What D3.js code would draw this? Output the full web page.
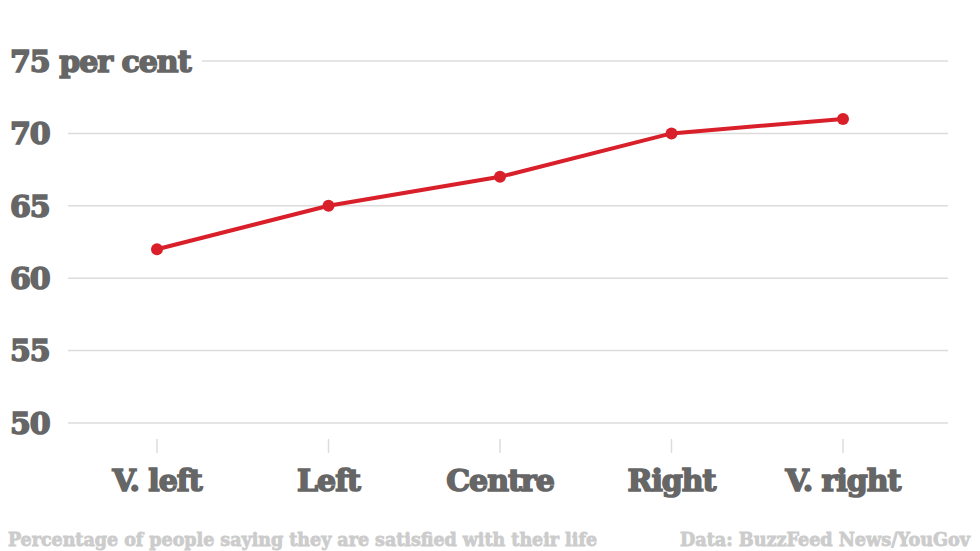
<!DOCTYPE html>
<html><head><meta charset="utf-8">
<script src="https://cdn.jsdelivr.net/npm/d3@7"></script>
<style>
body{margin:0;background:#fff;}
svg text{font-family:"DejaVu Serif","Liberation Serif",serif;font-weight:bold;}
</style></head>
<body><svg id="c" width="980" height="551"></svg>
<script>
const categories = ["V. left","Left","Centre","Right","V. right"];
const values = [62,65,67,70,71];
const yTicks = [50,55,60,65,70,75];
const yTickLabels = ["50","55","60","65","70","75 per cent"];
const footLeft = "Percentage of people saying they are satisfied with their life";
const footRight = "Data: BuzzFeed News/YouGov";

const svg = d3.select("#c");
const x = d3.scalePoint().domain(categories).range([71.25,928.75]).padding(0.5);
const y = d3.scaleLinear().domain([50,75]).range([423,61]);

const g = svg.append("g");
yTicks.forEach((t,i)=>{
  const x0 = t===75 ? 202 : 68;
  g.append("line").attr("x1",x0).attr("x2",948).attr("y1",y(t)).attr("y2",y(t))
    .attr("stroke","#dcdcdc").attr("stroke-width",1.5);
  g.append("text").attr("x",10).attr("y",y(t)).attr("dy","0.36em")
    .attr("font-size",30).attr("fill","#666").attr("stroke","#666").attr("stroke-width",1.6)
    .style("letter-spacing","-1px").text(yTickLabels[i]);
});

categories.forEach(c=>{
  g.append("line").attr("x1",x(c)).attr("x2",x(c)).attr("y1",439).attr("y2",453)
    .attr("stroke","#dcdcdc").attr("stroke-width",1.5);
  g.append("text").attr("x",x(c)).attr("y",491).attr("text-anchor","middle")
    .attr("font-size",30).attr("fill","#666").attr("stroke","#666").attr("stroke-width",1.6)
    .style("letter-spacing","-1px").text(c);
});

const data = categories.map((c,i)=>({c,v:values[i]}));
svg.append("path").datum(data)
  .attr("d",d3.line().x(d=>x(d.c)).y(d=>y(d.v)))
  .attr("fill","none").attr("stroke","#d9202a").attr("stroke-width",4);
svg.selectAll("circle.p").data(data).enter().append("circle")
  .attr("cx",d=>x(d.c)).attr("cy",d=>y(d.v)).attr("r",6).attr("fill","#d9202a");

svg.append("text").attr("x",8).attr("y",546).attr("font-size",19).attr("fill","#cccccc")
  .attr("stroke","#cccccc").attr("stroke-width",0.8)
  .attr("textLength",589).attr("lengthAdjust","spacingAndGlyphs")
  .style("font-family","'DejaVu Serif Condensed','DejaVu Serif',serif").text(footLeft);
svg.append("text").attr("x",680).attr("y",546).attr("font-size",19).attr("fill","#cccccc")
  .attr("stroke","#cccccc").attr("stroke-width",0.8)
  .attr("textLength",290).attr("lengthAdjust","spacingAndGlyphs")
  .style("font-family","'DejaVu Serif Condensed','DejaVu Serif',serif").text(footRight);
</script></body></html>
